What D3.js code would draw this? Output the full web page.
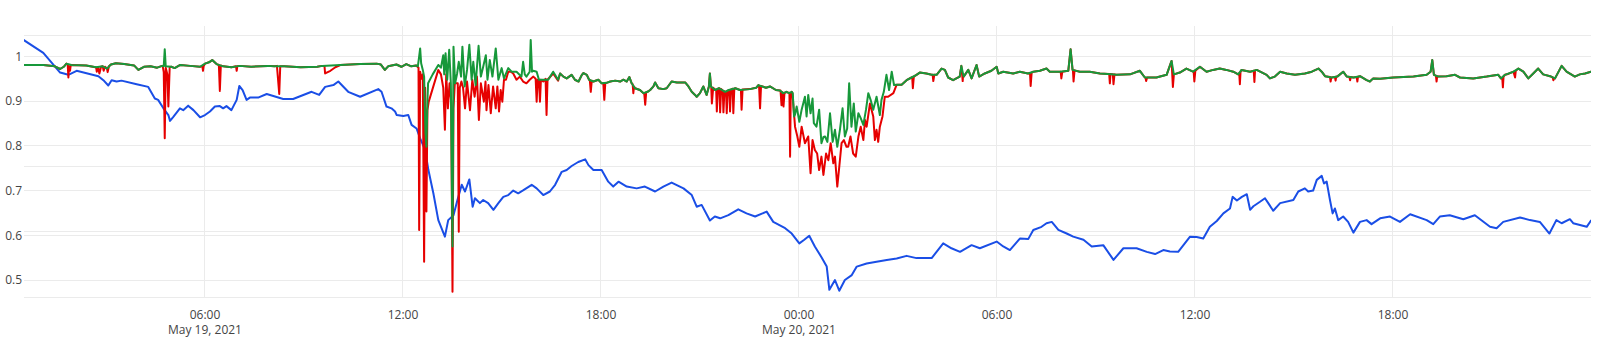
<!DOCTYPE html>
<html><head><meta charset="utf-8">
<script src="https://cdn.jsdelivr.net/npm/d3@7"></script>
<style>html,body{margin:0;padding:0;background:#fff;}svg{display:block;}</style>
</head><body>
<svg id="chart" width="1597" height="342"></svg>
<script>
// time values are hours since 2021-05-19 00:00
const startUTC = Date.UTC(2021, 4, 19, 0, 0);

const blueSeries = [[0.50,1.037],[1.10,1.008],[1.61,0.964],[1.86,0.959],[2.11,0.968],[2.77,0.956],[2.92,0.947],[3.07,0.935],[3.17,0.947],[3.32,0.944],[3.47,0.946],[3.93,0.938],[4.28,0.932],[4.48,0.906],[4.58,0.903],[4.74,0.884],[4.89,0.869],[4.94,0.856],[5.04,0.865],[5.24,0.884],[5.34,0.880],[5.49,0.890],[5.65,0.880],[5.85,0.864],[6.00,0.869],[6.15,0.877],[6.30,0.888],[6.45,0.889],[6.55,0.884],[6.65,0.889],[6.80,0.880],[6.96,0.903],[7.04,0.934],[7.14,0.925],[7.26,0.903],[7.36,0.908],[7.61,0.908],[7.87,0.916],[8.37,0.905],[8.67,0.905],[9.23,0.921],[9.46,0.914],[9.64,0.932],[9.89,0.936],[10.04,0.944],[10.34,0.921],[10.70,0.910],[11.25,0.927],[11.35,0.921],[11.50,0.888],[11.65,0.884],[11.76,0.877],[11.81,0.869],[12.01,0.867],[12.16,0.869],[12.26,0.847],[12.41,0.839],[12.52,0.817],[12.67,0.791],[12.77,0.746],[12.92,0.694],[13.07,0.634],[13.27,0.597],[13.37,0.634],[13.53,0.645],[13.65,0.679],[13.78,0.713],[13.88,0.698],[14.01,0.725],[14.11,0.664],[14.18,0.683],[14.33,0.672],[14.43,0.679],[14.58,0.672],[14.74,0.657],[14.89,0.672],[15.04,0.686],[15.19,0.690],[15.34,0.700],[15.49,0.694],[15.65,0.701],[15.90,0.713],[16.05,0.705],[16.25,0.690],[16.45,0.698],[16.61,0.713],[16.81,0.742],[16.96,0.746],[17.11,0.755],[17.31,0.764],[17.52,0.770],[17.62,0.757],[17.77,0.746],[18.02,0.746],[18.22,0.720],[18.37,0.709],[18.53,0.720],[18.78,0.709],[19.08,0.705],[19.33,0.709],[19.64,0.698],[19.89,0.709],[20.14,0.718],[20.50,0.705],[20.75,0.690],[20.90,0.664],[21.05,0.668],[21.30,0.633],[21.45,0.642],[21.61,0.638],[21.86,0.645],[22.16,0.658],[22.41,0.649],[22.67,0.642],[23.02,0.653],[23.22,0.630],[23.58,0.616],[23.78,0.604],[24.01,0.582],[24.16,0.590],[24.31,0.599],[24.48,0.575],[24.69,0.550],[24.84,0.530],[24.92,0.478],[25.09,0.500],[25.22,0.476],[25.39,0.500],[25.60,0.511],[25.75,0.530],[26.05,0.537],[26.35,0.541],[26.66,0.545],[26.96,0.548],[27.26,0.554],[27.56,0.549],[28.02,0.549],[28.37,0.582],[28.62,0.571],[28.88,0.563],[29.23,0.578],[29.48,0.571],[29.99,0.586],[30.19,0.575],[30.39,0.567],[30.70,0.593],[30.95,0.592],[31.10,0.612],[31.35,0.619],[31.50,0.627],[31.66,0.630],[31.86,0.612],[32.11,0.604],[32.31,0.597],[32.62,0.590],[32.87,0.575],[33.22,0.578],[33.53,0.545],[33.83,0.571],[34.23,0.571],[34.54,0.563],[34.79,0.558],[35.04,0.567],[35.24,0.564],[35.49,0.563],[35.85,0.597],[36.05,0.596],[36.25,0.593],[36.45,0.619],[36.66,0.632],[36.86,0.649],[37.06,0.660],[37.14,0.686],[37.27,0.678],[37.42,0.686],[37.57,0.692],[37.67,0.657],[37.77,0.665],[37.97,0.675],[38.12,0.683],[38.22,0.672],[38.37,0.655],[38.58,0.672],[38.98,0.679],[39.13,0.698],[39.33,0.705],[39.43,0.698],[39.58,0.700],[39.69,0.724],[39.84,0.733],[39.91,0.716],[39.99,0.720],[40.09,0.679],[40.17,0.649],[40.24,0.660],[40.34,0.634],[40.49,0.642],[40.64,0.630],[40.80,0.606],[41.00,0.630],[41.20,0.634],[41.35,0.625],[41.61,0.638],[41.91,0.642],[42.21,0.630],[42.52,0.647],[43.02,0.634],[43.22,0.625],[43.42,0.642],[43.72,0.645],[44.13,0.636],[44.48,0.645],[44.94,0.619],[45.14,0.616],[45.34,0.630],[45.85,0.640],[46.15,0.634],[46.45,0.630],[46.74,0.604],[46.95,0.634],[47.11,0.627],[47.36,0.636],[47.46,0.627],[47.87,0.619],[48.00,0.633]];

// values shared by the red and green traces where they coincide
const trackBase = [[0.50,0.981],[1.10,0.981],[1.45,0.978],[1.61,0.972],[1.72,0.977],[1.80,0.984],[1.95,0.981],[2.40,0.980],[2.70,0.976],[2.90,0.978],[3.03,0.973],[3.15,0.982],[3.30,0.985],[3.55,0.983],[3.85,0.980],[3.98,0.970],[4.15,0.977],[4.35,0.978],[4.55,0.975],[4.70,0.979],[4.98,0.977],[5.08,0.974],[5.25,0.981],[5.55,0.979],[5.85,0.977],[6.00,0.984],[6.12,0.987],[6.22,0.992],[6.35,0.983],[6.55,0.978],[6.80,0.976],[7.05,0.979],[7.40,0.977],[7.90,0.979],[8.10,0.978],[8.40,0.978],[8.90,0.976],[9.40,0.977],[9.55,0.979],[10.10,0.981],[10.70,0.983],[11.20,0.984],[11.33,0.982],[11.45,0.970],[11.55,0.978],[11.80,0.982],[11.95,0.977],[12.10,0.983],[12.25,0.978],[12.40,0.980],
[16.76,0.962],[16.86,0.955],[16.96,0.951],[17.11,0.959],[17.21,0.948],[17.32,0.944],[17.42,0.959],[17.47,0.963],[17.57,0.959],[17.64,0.948],[17.77,0.944],[17.92,0.948],[18.02,0.940],[18.17,0.941],[18.28,0.944],[18.43,0.946],[18.58,0.944],[18.68,0.948],[18.78,0.944],[18.86,0.954],[18.93,0.940],[19.03,0.929],[19.18,0.925],[19.29,0.918],[19.41,0.921],[19.49,0.925],[19.59,0.933],[19.64,0.942],[19.74,0.929],[19.89,0.927],[19.99,0.929],[20.14,0.944],[20.30,0.942],[20.55,0.942],[20.65,0.933],[20.75,0.921],[20.85,0.914],[20.90,0.910],[21.00,0.918],[21.10,0.933],[21.20,0.914],[21.27,0.933],[21.30,0.962],[21.33,0.933],[21.46,0.925],[21.57,0.929],[21.76,0.921],[21.87,0.925],[22.07,0.929],[22.21,0.925],[22.51,0.927],[22.70,0.930],[22.77,0.936],[23.00,0.930],[23.12,0.933],[23.30,0.925],[23.42,0.924],[23.52,0.918],[23.62,0.921],[23.70,0.918],[23.78,0.921],
[26.96,0.937],[27.11,0.937],[27.26,0.947],[27.41,0.953],[27.56,0.959],[27.66,0.964],[27.86,0.962],[28.02,0.959],[28.17,0.959],[28.32,0.973],[28.42,0.970],[28.52,0.953],[28.67,0.947],[28.87,0.955],[28.92,0.979],[28.99,0.955],[29.13,0.970],[29.23,0.951],[29.38,0.981],[29.46,0.955],[29.63,0.962],[29.83,0.968],[29.99,0.977],[30.04,0.962],[30.19,0.966],[30.49,0.962],[30.69,0.966],[30.94,0.962],[31.10,0.966],[31.30,0.968],[31.50,0.973],[31.60,0.966],[31.90,0.966],[32.16,0.968],[32.23,1.016],[32.29,0.970],[32.51,0.966],[32.81,0.966],[33.12,0.962],[33.47,0.960],[33.62,0.959],[34.03,0.960],[34.33,0.968],[34.48,0.953],[34.83,0.953],[35.14,0.959],[35.29,0.990],[35.36,0.960],[35.54,0.964],[35.74,0.973],[35.94,0.966],[36.15,0.977],[36.35,0.966],[36.55,0.970],[36.75,0.973],[36.95,0.970],[37.16,0.966],[37.31,0.960],[37.41,0.970],[37.67,0.966],[37.87,0.970],[38.17,0.959],[38.27,0.951],[38.42,0.955],[38.58,0.966],[38.78,0.962],[39.03,0.959],[39.33,0.962],[39.54,0.966],[39.74,0.973],[39.84,0.966],[39.94,0.956],[40.14,0.953],[40.31,0.955],[40.49,0.966],[40.60,0.955],[40.80,0.953],[41.00,0.956],[41.20,0.947],[41.30,0.944],[41.40,0.951],[41.61,0.950],[42.01,0.953],[42.62,0.955],[43.02,0.959],[43.14,0.966],[43.19,0.992],[43.24,0.959],[43.37,0.955],[43.62,0.956],[43.88,0.959],[44.03,0.953],[44.43,0.951],[44.84,0.955],[45.19,0.959],[45.27,0.951],[45.39,0.959],[45.65,0.966],[45.80,0.973],[45.95,0.966],[46.10,0.951],[46.25,0.962],[46.40,0.973],[46.55,0.960],[46.76,0.956],[46.91,0.951],[47.11,0.979],[47.26,0.966],[47.51,0.955],[47.66,0.960],[47.82,0.962],[48.00,0.966]];

// green-only readings (upward spikes and the two volatile stretches)
const greenOnly = [[4.75,0.978],[4.78,1.016],[4.81,0.978],
[12.45,0.978],[12.49,1.000],[12.52,1.018],[12.55,0.985],[12.60,0.970],[12.64,0.955],[12.68,0.830],[12.71,0.798],[12.74,0.900],[12.76,0.940],[12.90,0.960],[13.07,0.981],[13.15,0.975],[13.22,1.003],[13.25,0.960],[13.29,1.007],[13.34,0.948],[13.40,1.015],[13.45,0.940],[13.50,0.575],[13.53,1.022],[13.58,0.940],[13.64,0.962],[13.69,0.988],[13.76,0.955],[13.80,1.022],[13.87,0.933],[13.94,0.970],[14.01,1.026],[14.08,0.948],[14.13,0.988],[14.20,0.936],[14.29,1.024],[14.36,0.955],[14.43,0.977],[14.51,1.003],[14.56,0.948],[14.63,0.992],[14.71,0.955],[14.81,1.018],[14.89,0.948],[14.99,0.974],[15.06,0.951],[15.19,0.974],[15.29,0.966],[15.44,0.966],[15.59,0.955],[15.64,0.988],[15.69,0.960],[15.74,0.955],[15.84,0.966],[15.87,1.037],[15.91,0.966],[15.95,0.968],[16.05,0.966],[16.12,0.948],[16.25,0.948],[16.40,0.948],[16.55,0.966],[16.70,0.948],
[23.81,0.918],[23.85,0.866],[23.88,0.870],[23.93,0.888],[24.01,0.854],[24.08,0.881],[24.18,0.910],[24.23,0.866],[24.28,0.914],[24.35,0.873],[24.41,0.906],[24.45,0.851],[24.53,0.843],[24.61,0.881],[24.68,0.806],[24.74,0.820],[24.79,0.821],[24.86,0.809],[24.94,0.873],[25.02,0.809],[25.09,0.836],[25.16,0.798],[25.24,0.836],[25.32,0.884],[25.39,0.821],[25.46,0.839],[25.52,0.940],[25.59,0.843],[25.66,0.895],[25.72,0.832],[25.80,0.873],[25.87,0.862],[25.95,0.847],[26.03,0.881],[26.10,0.918],[26.17,0.903],[26.25,0.881],[26.35,0.910],[26.45,0.869],[26.50,0.903],[26.57,0.921],[26.65,0.959],[26.73,0.925],[26.81,0.966],[26.88,0.936]];

// red-only readings (downward dips and the two volatile stretches)
const redOnly = [[1.84,0.982],[1.86,0.953],[1.88,0.978],[1.91,0.968],[1.93,0.980],
[2.68,0.976],[2.72,0.966],[2.76,0.976],[2.80,0.962],[2.85,0.977],[2.93,0.968],[2.97,0.977],[3.05,0.965],[3.09,0.978],
[4.72,0.978],[4.75,0.965],[4.78,0.817],[4.81,0.975],[4.86,0.960],[4.89,0.888],[4.93,0.976],
[5.92,0.978],[5.94,0.968],[5.96,0.979],[6.42,0.981],[6.45,0.923],[6.48,0.980],[6.94,0.978],[6.96,0.968],[6.98,0.978],
[8.18,0.979],[8.25,0.916],[8.28,0.978],[9.62,0.979],[9.64,0.962],[9.80,0.968],[9.95,0.976],
[12.47,0.975],[12.49,0.612],[12.52,0.966],[12.56,0.950],[12.60,0.960],[12.64,0.541],[12.67,0.930],[12.71,0.653],[12.74,0.880],[12.78,0.899],[13.07,0.970],[13.15,0.960],[13.22,0.930],[13.27,0.836],[13.31,0.960],[13.36,0.884],[13.41,0.940],[13.46,0.900],[13.50,0.474],[13.53,0.884],[13.57,0.940],[13.66,0.940],[13.69,0.608],[13.72,0.930],[13.77,0.944],[13.82,0.930],[13.88,0.884],[13.94,0.944],[14.03,0.880],[14.10,0.948],[14.17,0.910],[14.24,0.955],[14.30,0.858],[14.36,0.940],[14.45,0.899],[14.50,0.944],[14.53,0.880],[14.59,0.936],[14.66,0.873],[14.73,0.933],[14.81,0.884],[14.86,0.933],[14.91,0.877],[14.96,0.925],[15.01,0.899],[15.06,0.948],[15.12,0.948],[15.19,0.966],[15.27,0.966],[15.34,0.962],[15.44,0.948],[15.54,0.955],[15.64,0.944],[15.74,0.940],[15.84,0.948],[15.95,0.955],[16.02,0.950],[16.05,0.899],[16.08,0.948],[16.12,0.948],[16.15,0.899],[16.18,0.948],[16.25,0.944],[16.32,0.950],[16.35,0.869],[16.38,0.948],[16.55,0.962],[16.70,0.946],
[17.66,0.948],[17.69,0.921],[17.72,0.946],[18.07,0.940],[18.10,0.903],[18.13,0.940],[18.96,0.938],[18.98,0.918],[19.00,0.933],[19.31,0.918],[19.34,0.892],[19.37,0.920],
[21.34,0.933],[21.36,0.895],[21.40,0.930],[21.49,0.926],[21.51,0.877],[21.54,0.927],[21.59,0.929],[21.61,0.875],[21.64,0.927],[21.69,0.924],[21.71,0.875],[21.74,0.922],[21.79,0.921],[21.81,0.873],[21.84,0.923],[21.89,0.925],[21.91,0.877],[21.94,0.926],[21.99,0.928],[22.01,0.873],[22.04,0.928],[22.24,0.925],[22.26,0.881],[22.29,0.926],[22.79,0.934],[22.82,0.884],[22.85,0.934],
[23.44,0.924],[23.47,0.891],[23.50,0.920],[23.53,0.888],[23.56,0.918],[23.71,0.919],[23.73,0.776],[23.75,0.918],
[23.80,0.918],[23.88,0.843],[23.95,0.821],[24.01,0.798],[24.08,0.843],[24.18,0.806],[24.28,0.821],[24.35,0.739],[24.41,0.813],[24.48,0.791],[24.55,0.783],[24.61,0.746],[24.68,0.776],[24.74,0.735],[24.82,0.783],[24.89,0.768],[24.96,0.806],[25.04,0.761],[25.09,0.776],[25.16,0.709],[25.22,0.753],[25.29,0.806],[25.36,0.813],[25.44,0.798],[25.49,0.798],[25.56,0.821],[25.64,0.783],[25.72,0.776],[25.80,0.821],[25.87,0.843],[25.95,0.813],[26.00,0.858],[26.05,0.843],[26.15,0.895],[26.25,0.866],[26.30,0.813],[26.35,0.836],[26.40,0.809],[26.45,0.843],[26.53,0.866],[26.60,0.910],[26.70,0.910],[26.86,0.918],
[27.43,0.954],[27.45,0.929],[27.48,0.955],[28.05,0.959],[28.07,0.945],[28.10,0.959],[28.95,0.955],[28.96,0.945],[28.97,0.955],
[31.00,0.963],[31.02,0.934],[31.05,0.964],[31.93,0.966],[31.95,0.951],[31.98,0.966],[32.30,0.970],[32.32,0.944],[32.35,0.969],
[33.40,0.961],[33.42,0.940],[33.44,0.961],[33.51,0.960],[33.53,0.938],[33.56,0.960],[34.50,0.953],[34.52,0.945],[34.55,0.953],
[35.33,0.932],[35.96,0.966],[35.98,0.944],[36.01,0.968],[37.34,0.963],[37.36,0.938],[37.38,0.966],[37.78,0.968],[37.80,0.943],[37.82,0.969],
[40.09,0.954],[40.11,0.944],[40.13,0.953],[40.24,0.954],[40.26,0.946],[40.28,0.955],[40.68,0.954],[40.70,0.947],[40.72,0.954],[40.90,0.954],[40.92,0.944],[40.94,0.955],
[43.30,0.957],[43.32,0.944],[43.34,0.956],[45.31,0.953],[45.33,0.931],[45.35,0.955],[45.49,0.961],[45.70,0.953],[45.72,0.968],[46.84,0.953],[46.86,0.947],[46.88,0.952]];

const xTickHours = [6, 12, 18, 24, 30, 36, 42];
const xTickLabels = [["06:00","May 19, 2021"],["12:00"],["18:00"],["00:00","May 20, 2021"],["06:00"],["12:00"],["18:00"]];
const yTickValues = [0.5, 0.6, 0.7, 0.8, 0.9, 1];
const yTickLabels = ["0.5","0.6","0.7","0.8","0.9","1"];
const y2TickValues = [0, 1, 2, 3, 4];

const seriesColors = {blue: "#1a4ee6", red: "#e60000", green: "#17983a"};

const plot = {left: 24, right: 1591, top: 26, bottom: 297};
const toDate = h => new Date(startUTC + h * 3600e3);

const x = d3.scaleUtc().domain([toDate(0.5152), toDate(48)]).range([plot.left, plot.right]);
const y = d3.scaleLinear().domain([0.462, 1.0682]).range([plot.bottom, plot.top]);
const y2 = d3.scaleLinear().domain([0, 4.153]).range([plot.bottom, plot.top]);

const svg = d3.select("#chart");
svg.append("rect").attr("width", 1597).attr("height", 342).attr("fill", "#fff");
svg.append("defs").append("clipPath").attr("id", "clip").append("rect")
  .attr("x", plot.left).attr("y", plot.top - 2).attr("width", plot.right - plot.left).attr("height", plot.bottom - plot.top + 4);

const grid = svg.append("g").attr("stroke", "#ebebeb").attr("stroke-width", 1).attr("shape-rendering", "crispEdges");
grid.selectAll(".g2").data(y2TickValues).join("line")
  .attr("x1", plot.left).attr("x2", plot.right).attr("y1", d => y2(d)).attr("y2", d => y2(d));
grid.selectAll(".g1").data(yTickValues).join("line")
  .attr("x1", plot.left).attr("x2", plot.right).attr("y1", d => y(d)).attr("y2", d => y(d));
grid.selectAll(".gx").data(xTickHours).join("line")
  .attr("x1", d => x(toDate(d))).attr("x2", d => x(toDate(d))).attr("y1", plot.top).attr("y2", plot.bottom);

const line = d3.line().x(d => x(toDate(d[0]))).y(d => y(d[1]));
const byTime = (a, b) => a[0] - b[0];
const redSeries = trackBase.concat(redOnly).sort(byTime);
const greenSeries = trackBase.concat(greenOnly).sort(byTime);

const lines = svg.append("g").attr("clip-path", "url(#clip)").attr("fill", "none")
  .attr("stroke-width", 2).attr("stroke-linejoin", "round").attr("stroke-linecap", "round");
lines.append("path").attr("d", line(blueSeries)).attr("stroke", seriesColors.blue);
lines.append("path").attr("d", line(redSeries)).attr("stroke", seriesColors.red);
lines.append("path").attr("d", line(greenSeries)).attr("stroke", seriesColors.green);

const textStyle = sel => sel.attr("font-family", "'Open Sans', sans-serif").attr("font-size", 12).attr("fill", "#444");

const yAxis = svg.append("g").call(textStyle);
yAxis.selectAll("text").data(yTickValues).join("text")
  .attr("x", 22).attr("y", d => y(d)).attr("dy", "0.35em").attr("text-anchor", "end")
  .text((d, i) => yTickLabels[i]);

const xAxis = svg.append("g").call(textStyle);
xTickHours.forEach((h, i) => {
  const t = xAxis.append("text").attr("text-anchor", "middle").attr("x", x(toDate(h))).attr("y", 318.5);
  xTickLabels[i].forEach((s, j) => {
    t.append("tspan").attr("x", x(toDate(h))).attr("dy", j === 0 ? 0 : 15.6).text(s);
  });
});
</script>
</body></html>
